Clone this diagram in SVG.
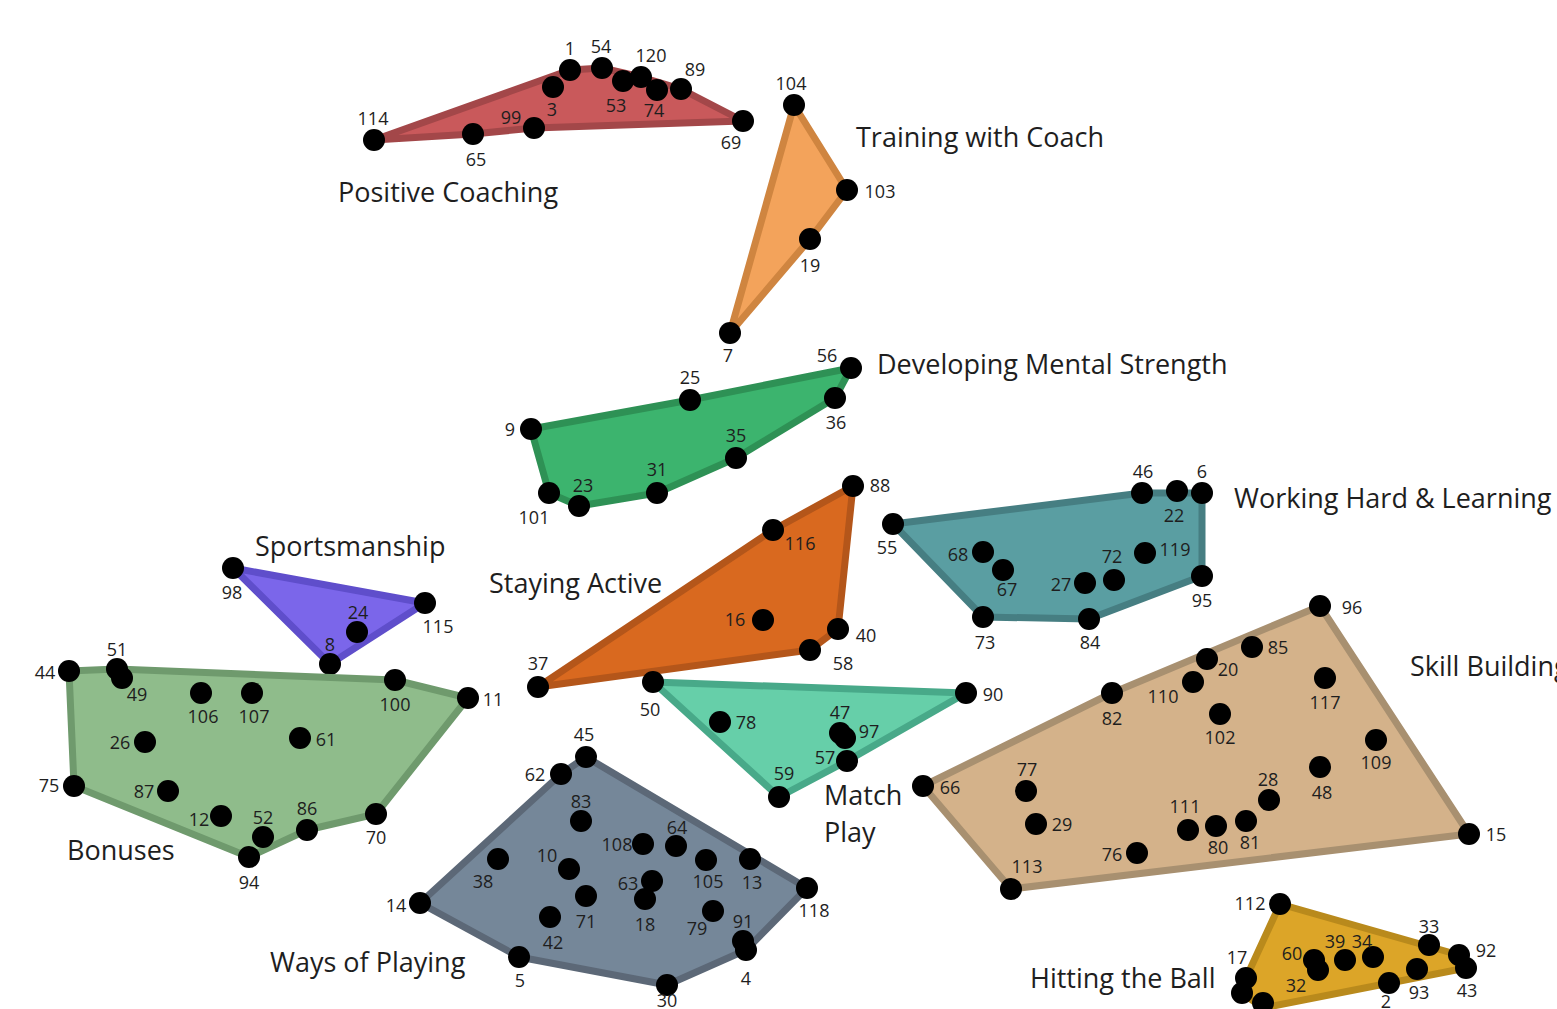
<svg xmlns="http://www.w3.org/2000/svg" width="1557" height="1009" viewBox="0 0 1557 1009">
  <style>
    .hull { stroke-width: 7; stroke-linejoin: round; }
    .pt { fill: #000; }
    .num { font-family: "Open Sans", "Noto Sans", sans-serif; font-size: 18px; fill: #1e1e1e; text-anchor: middle; }
    .title { font-family: "Open Sans", "Noto Sans", sans-serif; font-size: 27px; fill: #1e1e1e; }
    .c-red { fill: #c9595b; stroke: #a34749; }
    .c-peach { fill: #f3a35b; stroke: #cf8540; }
    .c-green { fill: #3cb46e; stroke: #2e9155; }
    .c-rust { fill: #d9691f; stroke: #b4561a; }
    .c-teal { fill: #5a9ea2; stroke: #467e82; }
    .c-purple { fill: #7b66ea; stroke: #5f4ecb; }
    .c-sage { fill: #8fbc8b; stroke: #6f9a6d; }
    .c-aqua { fill: #66cfa9; stroke: #48a989; }
    .c-slate { fill: #758799; stroke: #5c6877; }
    .c-tan { fill: #d4b28a; stroke: #a89070; }
    .c-gold { fill: #dca528; stroke: #b98a1c; }
  </style>
  <rect width="1557" height="1009" fill="#ffffff"/>

  <!-- Positive Coaching -->
  <g id="positive-coaching">
    <polygon class="hull c-red" points="374,140 570,70 602,68 641,77 681,89 743,121 534,128 473,134"/>
    <g class="pt">
      <circle cx="374" cy="140" r="11"/><circle cx="473" cy="134" r="11"/><circle cx="534" cy="128" r="11"/>
      <circle cx="553" cy="87" r="11"/><circle cx="570" cy="70" r="11"/><circle cx="602" cy="68" r="11"/>
      <circle cx="623" cy="81" r="11"/><circle cx="641" cy="77" r="11"/><circle cx="657" cy="90" r="11"/>
      <circle cx="681" cy="89" r="11"/><circle cx="743" cy="121" r="11"/>
    </g>
    <text class="num" x="373" y="125">114</text><text class="num" x="476" y="166">65</text>
    <text class="num" x="511" y="124">99</text><text class="num" x="552" y="116">3</text>
    <text class="num" x="570" y="55">1</text><text class="num" x="601" y="53">54</text>
    <text class="num" x="616" y="112">53</text><text class="num" x="651" y="62">120</text>
    <text class="num" x="654" y="117">74</text><text class="num" x="695" y="76">89</text>
    <text class="num" x="731" y="149">69</text>
    <text class="title" x="338" y="202">Positive Coaching</text>
  </g>

  <!-- Training with Coach -->
  <g id="training-with-coach">
    <polygon class="hull c-peach" points="794,105 847,190 810,239 730,333"/>
    <g class="pt">
      <circle cx="794" cy="105" r="11"/><circle cx="847" cy="190" r="11"/>
      <circle cx="810" cy="239" r="11"/><circle cx="730" cy="333" r="11"/>
    </g>
    <text class="num" x="791" y="90">104</text><text class="num" x="880" y="198">103</text>
    <text class="num" x="810" y="272">19</text><text class="num" x="728" y="362">7</text>
    <text class="title" x="856" y="147">Training with Coach</text>
  </g>

  <!-- Developing Mental Strength -->
  <g id="developing-mental-strength">
    <polygon class="hull c-green" points="851,368 690,400 531,429 549,493 579,506 657,493 736,458 835,398"/>
    <g class="pt">
      <circle cx="851" cy="368" r="11"/><circle cx="835" cy="398" r="11"/><circle cx="690" cy="400" r="11"/>
      <circle cx="531" cy="429" r="11"/><circle cx="736" cy="458" r="11"/><circle cx="657" cy="493" r="11"/>
      <circle cx="549" cy="493" r="11"/><circle cx="579" cy="506" r="11"/>
    </g>
    <text class="num" x="827" y="362">56</text><text class="num" x="836" y="429">36</text>
    <text class="num" x="690" y="384">25</text><text class="num" x="510" y="436">9</text>
    <text class="num" x="736" y="442">35</text><text class="num" x="657" y="476">31</text>
    <text class="num" x="534" y="524">101</text><text class="num" x="583" y="492">23</text>
    <text class="title" x="877" y="374">Developing Mental Strength</text>
  </g>

  <!-- Staying Active -->
  <g id="staying-active">
    <polygon class="hull c-rust" points="853,486 773,530 538,687 810,650 838,629"/>
    <g class="pt">
      <circle cx="853" cy="486" r="11"/><circle cx="773" cy="530" r="11"/><circle cx="763" cy="620" r="11"/>
      <circle cx="838" cy="629" r="11"/><circle cx="810" cy="650" r="11"/><circle cx="538" cy="687" r="11"/>
    </g>
    <text class="num" x="880" y="492">88</text><text class="num" x="800" y="550">116</text>
    <text class="num" x="735" y="626">16</text><text class="num" x="866" y="642">40</text>
    <text class="num" x="843" y="670">58</text><text class="num" x="538" y="670">37</text>
    <text class="title" x="489" y="593">Staying Active</text>
  </g>

  <!-- Working Hard & Learning -->
  <g id="working-hard-learning">
    <polygon class="hull c-teal" points="893,524 1142,493 1202,493 1202,576 1089,619 983,617"/>
    <g class="pt">
      <circle cx="893" cy="524" r="11"/><circle cx="1142" cy="493" r="11"/><circle cx="1177" cy="491" r="11"/>
      <circle cx="1202" cy="493" r="11"/><circle cx="983" cy="552" r="11"/><circle cx="1003" cy="570" r="11"/>
      <circle cx="1145" cy="553" r="11"/><circle cx="1114" cy="580" r="11"/><circle cx="1085" cy="583" r="11"/>
      <circle cx="1202" cy="576" r="11"/><circle cx="983" cy="617" r="11"/><circle cx="1089" cy="619" r="11"/>
    </g>
    <text class="num" x="887" y="554">55</text><text class="num" x="1143" y="478">46</text>
    <text class="num" x="1174" y="522">22</text><text class="num" x="1202" y="478">6</text>
    <text class="num" x="958" y="561">68</text><text class="num" x="1007" y="596">67</text>
    <text class="num" x="1175" y="556">119</text><text class="num" x="1112" y="563">72</text>
    <text class="num" x="1061" y="591">27</text><text class="num" x="1202" y="607">95</text>
    <text class="num" x="985" y="649">73</text><text class="num" x="1090" y="649">84</text>
    <text class="title" x="1234" y="508">Working Hard &amp; Learning</text>
  </g>

  <!-- Sportsmanship -->
  <g id="sportsmanship">
    <polygon class="hull c-purple" points="233,568 425,603 330,664"/>
    <g class="pt">
      <circle cx="233" cy="568" r="11"/><circle cx="425" cy="603" r="11"/>
      <circle cx="357" cy="632" r="11"/><circle cx="330" cy="664" r="11"/>
    </g>
    <text class="num" x="232" y="599">98</text><text class="num" x="438" y="633">115</text>
    <text class="num" x="358" y="619">24</text><text class="num" x="330" y="651">8</text>
    <text class="title" x="255" y="556">Sportsmanship</text>
  </g>

  <!-- Bonuses -->
  <g id="bonuses">
    <polygon class="hull c-sage" points="69,671 117,669 395,680 468,698 376,814 307,830 249,857 74,786"/>
    <g class="pt">
      <circle cx="69" cy="671" r="11"/><circle cx="117" cy="669" r="11"/><circle cx="122" cy="678" r="11"/>
      <circle cx="201" cy="693" r="11"/><circle cx="252" cy="693" r="11"/><circle cx="395" cy="680" r="11"/>
      <circle cx="468" cy="698" r="11"/><circle cx="145" cy="742" r="11"/><circle cx="300" cy="738" r="11"/>
      <circle cx="74" cy="786" r="11"/><circle cx="168" cy="791" r="11"/><circle cx="221" cy="816" r="11"/>
      <circle cx="263" cy="837" r="11"/><circle cx="307" cy="830" r="11"/><circle cx="376" cy="814" r="11"/>
      <circle cx="249" cy="857" r="11"/>
    </g>
    <text class="num" x="45" y="679">44</text><text class="num" x="117" y="656">51</text>
    <text class="num" x="137" y="701">49</text><text class="num" x="203" y="723">106</text>
    <text class="num" x="254" y="723">107</text><text class="num" x="395" y="711">100</text>
    <text class="num" x="493" y="706">11</text><text class="num" x="120" y="749">26</text>
    <text class="num" x="326" y="746">61</text><text class="num" x="49" y="792">75</text>
    <text class="num" x="144" y="798">87</text><text class="num" x="199" y="826">12</text>
    <text class="num" x="263" y="824">52</text><text class="num" x="307" y="815">86</text>
    <text class="num" x="376" y="844">70</text><text class="num" x="249" y="889">94</text>
    <text class="title" x="67" y="860">Bonuses</text>
  </g>

  <!-- Match Play -->
  <g id="match-play">
    <polygon class="hull c-aqua" points="653,682 966,693 847,761 779,797"/>
    <g class="pt">
      <circle cx="653" cy="682" r="11"/><circle cx="966" cy="693" r="11"/><circle cx="720" cy="722" r="11"/>
      <circle cx="840" cy="733" r="11"/><circle cx="845" cy="738" r="11"/><circle cx="847" cy="761" r="11"/>
      <circle cx="779" cy="797" r="11"/>
    </g>
    <text class="num" x="650" y="716">50</text><text class="num" x="993" y="701">90</text>
    <text class="num" x="746" y="729">78</text><text class="num" x="840" y="719">47</text>
    <text class="num" x="869" y="738">97</text><text class="num" x="825" y="764">57</text>
    <text class="num" x="784" y="780">59</text>
    <text class="title" x="824" y="805">Match</text>
    <text class="title" x="824" y="842">Play</text>
  </g>

  <!-- Ways of Playing -->
  <g id="ways-of-playing">
    <polygon class="hull c-slate" points="586,757 807,888 746,950 667,985 519,957 420,903 561,774"/>
    <g class="pt">
      <circle cx="586" cy="757" r="11"/><circle cx="561" cy="774" r="11"/><circle cx="581" cy="821" r="11"/>
      <circle cx="643" cy="844" r="11"/><circle cx="676" cy="846" r="11"/><circle cx="569" cy="869" r="11"/>
      <circle cx="498" cy="859" r="11"/><circle cx="706" cy="860" r="11"/><circle cx="750" cy="859" r="11"/>
      <circle cx="807" cy="888" r="11"/><circle cx="652" cy="881" r="11"/><circle cx="645" cy="899" r="11"/>
      <circle cx="586" cy="896" r="11"/><circle cx="713" cy="911" r="11"/><circle cx="743" cy="941" r="11"/>
      <circle cx="746" cy="950" r="11"/><circle cx="550" cy="917" r="11"/><circle cx="420" cy="903" r="11"/>
      <circle cx="519" cy="957" r="11"/><circle cx="667" cy="985" r="11"/>
    </g>
    <text class="num" x="584" y="741">45</text><text class="num" x="535" y="781">62</text>
    <text class="num" x="581" y="808">83</text><text class="num" x="617" y="851">108</text>
    <text class="num" x="677" y="834">64</text><text class="num" x="547" y="862">10</text>
    <text class="num" x="483" y="888">38</text><text class="num" x="708" y="888">105</text>
    <text class="num" x="752" y="889">13</text><text class="num" x="814" y="917">118</text>
    <text class="num" x="628" y="890">63</text><text class="num" x="645" y="931">18</text>
    <text class="num" x="586" y="928">71</text><text class="num" x="697" y="935">79</text>
    <text class="num" x="743" y="928">91</text><text class="num" x="746" y="985">4</text>
    <text class="num" x="553" y="949">42</text><text class="num" x="396" y="912">14</text>
    <text class="num" x="520" y="987">5</text><text class="num" x="667" y="1007">30</text>
    <text class="title" x="270" y="972">Ways of Playing</text>
  </g>

  <!-- Skill Building -->
  <g id="skill-building">
    <polygon class="hull c-tan" points="1320,606 1469,834 1011,889 923,786 1112,693"/>
    <g class="pt">
      <circle cx="1320" cy="606" r="11"/><circle cx="1252" cy="647" r="11"/><circle cx="1207" cy="659" r="11"/>
      <circle cx="1193" cy="682" r="11"/><circle cx="1112" cy="693" r="11"/><circle cx="1325" cy="678" r="11"/>
      <circle cx="1220" cy="714" r="11"/><circle cx="1376" cy="740" r="11"/><circle cx="1320" cy="767" r="11"/>
      <circle cx="1269" cy="800" r="11"/><circle cx="923" cy="786" r="11"/><circle cx="1026" cy="791" r="11"/>
      <circle cx="1036" cy="824" r="11"/><circle cx="1188" cy="830" r="11"/><circle cx="1216" cy="826" r="11"/>
      <circle cx="1246" cy="821" r="11"/><circle cx="1137" cy="853" r="11"/><circle cx="1011" cy="889" r="11"/>
      <circle cx="1469" cy="834" r="11"/>
    </g>
    <text class="num" x="1352" y="614">96</text><text class="num" x="1278" y="654">85</text>
    <text class="num" x="1228" y="676">20</text><text class="num" x="1163" y="703">110</text>
    <text class="num" x="1112" y="725">82</text><text class="num" x="1325" y="709">117</text>
    <text class="num" x="1220" y="744">102</text><text class="num" x="1376" y="769">109</text>
    <text class="num" x="1322" y="799">48</text><text class="num" x="1268" y="786">28</text>
    <text class="num" x="950" y="794">66</text><text class="num" x="1027" y="776">77</text>
    <text class="num" x="1062" y="831">29</text><text class="num" x="1185" y="813">111</text>
    <text class="num" x="1218" y="854">80</text><text class="num" x="1250" y="849">81</text>
    <text class="num" x="1112" y="861">76</text><text class="num" x="1027" y="873">113</text>
    <text class="num" x="1496" y="841">15</text>
    <text class="title" x="1410" y="676">Skill Building</text>
  </g>

  <!-- Hitting the Ball -->
  <g id="hitting-the-ball">
    <polygon class="hull c-gold" points="1280,904 1459,955 1466,968 1263,1008 1242,993 1246,978"/>
    <g class="pt">
      <circle cx="1280" cy="904" r="11"/><circle cx="1429" cy="945" r="11"/><circle cx="1459" cy="955" r="11"/>
      <circle cx="1466" cy="968" r="11"/><circle cx="1314" cy="960" r="11"/><circle cx="1318" cy="970" r="11"/>
      <circle cx="1345" cy="960" r="11"/><circle cx="1373" cy="957" r="11"/><circle cx="1417" cy="969" r="11"/>
      <circle cx="1389" cy="983" r="11"/><circle cx="1246" cy="978" r="11"/><circle cx="1242" cy="993" r="11"/>
      <circle cx="1263" cy="1003" r="11"/>
    </g>
    <text class="num" x="1250" y="910">112</text><text class="num" x="1429" y="933">33</text>
    <text class="num" x="1486" y="957">92</text><text class="num" x="1467" y="997">43</text>
    <text class="num" x="1292" y="960">60</text><text class="num" x="1335" y="948">39</text>
    <text class="num" x="1362" y="948">34</text><text class="num" x="1296" y="992">32</text>
    <text class="num" x="1419" y="999">93</text><text class="num" x="1386" y="1008">2</text>
    <text class="num" x="1237" y="964">17</text>
    <text class="title" x="1030" y="988">Hitting the Ball</text>
  </g>
</svg>
